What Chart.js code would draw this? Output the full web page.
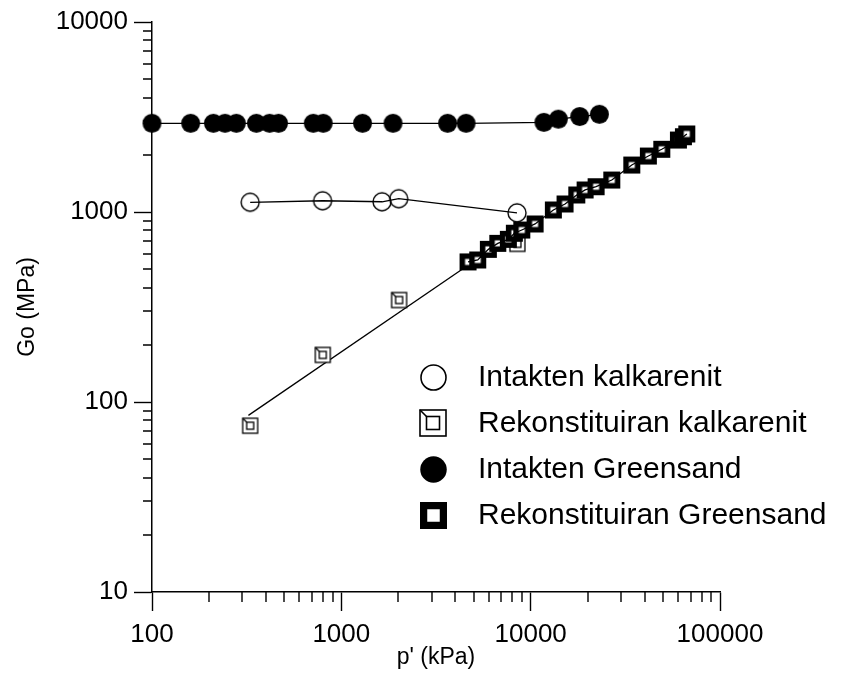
<!DOCTYPE html>
<html><head><meta charset="utf-8">
<style>html,body{margin:0;padding:0;background:#fff}#wrap{width:848px;height:683px;position:relative}</style>
<script src="https://cdn.jsdelivr.net/npm/chart.js@4/dist/chart.umd.min.js"></script>
</head><body><div id="wrap"><canvas id="c" width="848" height="683"></canvas></div>
<script>
// ---- data ----
const seriesNames = ['Intakten kalkarenit', 'Rekonstituiran kalkarenit', 'Intakten Greensand', 'Rekonstituiran Greensand'];
const intaktKalkP = [330, 796, 1641, 2010, 8470];
const intaktKalkG = [1125, 1146, 1132, 1175, 990];
const rekonKalkP = [330, 798, 2018, 8510];
const rekonKalkG = [75, 177, 344, 680];
const rekonKalkFitP = [323, 4670];
const rekonKalkFitG = [85, 525];
const intaktGreenP = [100, 160, 211, 243, 279, 356, 418, 466, 711, 802, 1294, 1875, 3640, 4560, 11750, 14000, 18160, 23070];
const intaktGreenG = [2930, 2930, 2930, 2930, 2930, 2930, 2930, 2930, 2930, 2930, 2930, 2930, 2930, 2930, 2965, 3080, 3180, 3268];
const rekonGreenP = [4670, 5254, 5977, 6703, 7625, 8200, 8974, 10550, 13180, 15190, 17520, 19390, 22160, 26820, 34200, 41850, 49260, 60300, 64080, 66790];
const rekonGreenG = [546, 559, 636, 684, 718, 773, 804, 865, 1025, 1102, 1229, 1306, 1359, 1473, 1767, 1971, 2138, 2393, 2490, 2574];
const xTickLabels = ['100', '1000', '10000', '100000'];
const yTickLabels = ['10', '100', '1000', '10000'];
const xTitle = "p' (kPa)";
const yTitle = 'Go (MPa)';

const FONT = '"Liberation Sans", Arial, sans-serif';
const pts = (xs, ys) => xs.map((x, i) => ({x: x, y: ys[i]}));

// ---- marker images ----
function mk(size, draw) {
  const c = document.createElement('canvas');
  c.width = size; c.height = size;
  const g = c.getContext('2d');
  draw(g, size);
  return c;
}
function openCircle(d, lw) {
  return mk(Math.ceil(d + lw + 2), (g, s) => {
    g.beginPath(); g.arc(s / 2, s / 2, d / 2, 0, Math.PI * 2);
    g.lineWidth = lw; g.strokeStyle = '#000'; g.stroke();
  });
}
function filledCircle(d) {
  return mk(Math.ceil(d + 2), (g, s) => {
    g.beginPath(); g.arc(s / 2, s / 2, d / 2, 0, Math.PI * 2);
    g.fillStyle = '#000'; g.fill();
  });
}
function kalkSquare(o, i, lw) {
  return mk(Math.ceil(o + lw + 2), (g, s) => {
    const c = s / 2;
    g.fillStyle = '#fff'; g.fillRect(c - o / 2, c - o / 2, o, o);
    g.lineWidth = lw; g.strokeStyle = '#000';
    g.strokeRect(c - o / 2, c - o / 2, o, o);
    g.strokeRect(c - i / 2, c - i / 2, i, i);
    g.beginPath(); g.moveTo(c - o / 2, c - o / 2); g.lineTo(c - i / 2, c - i / 2); g.stroke();
  });
}
function greenSquare(o, i) {
  return mk(Math.ceil(o + 2), (g, s) => {
    const c = s / 2;
    g.fillStyle = '#000'; g.fillRect(c - o / 2, c - o / 2, o, o);
    g.fillStyle = '#fff'; g.fillRect(c - i / 2, c - i / 2, i, i);
  });
}
const mOpenC = openCircle(18, 1.4);
const mKalkS = kalkSquare(15, 7, 1.3);
const mFillC = filledCircle(19);
const mGreenS = greenSquare(17, 6);
const legendMarkers = [openCircle(25, 1.6), kalkSquare(26, 13, 1.6), filledCircle(26.5), greenSquare(27, 12.5)];

const isMajor = v => Math.abs(Math.log10(v) - Math.round(Math.log10(v))) < 1e-9;
function logTicks(min, max) {
  const t = [];
  for (let e = Math.round(Math.log10(min)); e < Math.round(Math.log10(max)); e++) {
    for (let m = 1; m < 10; m++) t.push({value: m * Math.pow(10, e)});
  }
  t.push({value: max});
  return t;
}

const minorTicks = {
  id: 'minorTicks',
  afterDraw(chart) {
    const ctx = chart.ctx, a = chart.chartArea;
    const xs = chart.scales.x, ys = chart.scales.y;
    ctx.save();
    ctx.strokeStyle = '#000'; ctx.lineWidth = 1.4;
    ctx.beginPath();
    xs.ticks.forEach(t => {
      if (!isMajor(t.value)) {
        const px = Math.round(xs.getPixelForValue(t.value));
        ctx.moveTo(px, a.bottom); ctx.lineTo(px, a.bottom + 10);
      }
    });
    ys.ticks.forEach(t => {
      if (!isMajor(t.value)) {
        const py = Math.round(ys.getPixelForValue(t.value));
        ctx.moveTo(a.left, py); ctx.lineTo(a.left - 9, py);
      }
    });
    ctx.stroke();
    ctx.restore();
  }
};

const customLegend = {
  id: 'customLegend',
  afterDraw(chart) {
    const ctx = chart.ctx, a = chart.chartArea;
    const mx = a.left + 281, tx = a.left + 326, y0 = a.top + 355, dy = 46;
    ctx.save();
    ctx.font = '30px ' + FONT;
    ctx.fillStyle = '#000';
    ctx.textBaseline = 'middle';
    ctx.textAlign = 'left';
    seriesNames.forEach((name, i) => {
      const m = legendMarkers[i];
      const y = y0 + i * dy;
      ctx.drawImage(m, Math.round(mx - m.width / 2), Math.round(y - m.height / 2));
      ctx.fillText(name, tx, y + 1);
    });
    ctx.restore();
  }
};

const lineCommon = {showLine: true, borderColor: '#000', borderWidth: 1.3, clip: false, pointRadius: 9, pointHoverRadius: 9};

new Chart(document.getElementById('c'), {
  type: 'scatter',
  data: {
    datasets: [
      Object.assign({}, lineCommon, {label: seriesNames[0], data: pts(intaktKalkP, intaktKalkG), pointStyle: mOpenC, order: 0}),
      Object.assign({}, lineCommon, {label: 'Greensand line', data: pts(rekonGreenP, rekonGreenG), pointRadius: 0, order: 1}),
      Object.assign({}, lineCommon, {label: seriesNames[3], data: pts(rekonGreenP, rekonGreenG), showLine: false, pointStyle: mGreenS, order: 2}),
      Object.assign({}, lineCommon, {label: seriesNames[2], data: pts(intaktGreenP, intaktGreenG), pointStyle: mFillC, order: 3}),
      Object.assign({}, lineCommon, {label: seriesNames[1], data: pts(rekonKalkP, rekonKalkG), showLine: false, pointStyle: mKalkS, order: 4}),
      Object.assign({}, lineCommon, {label: 'Kalkarenit fit', data: pts(rekonKalkFitP, rekonKalkFitG), pointRadius: 0, order: 5})
    ]
  },
  options: {
    responsive: false,
    animation: false,
    devicePixelRatio: 1,
    layout: {padding: {top: 22, right: 128, left: 0, bottom: 0}},
    plugins: {legend: {display: false}, tooltip: {enabled: false}},
    events: [],
    scales: {
      x: {
        type: 'logarithmic', min: 100, max: 100000,
        afterBuildTicks: s => { s.ticks = logTicks(100, 100000); },
        afterFit: s => { s.height = 91; },
        grid: {drawOnChartArea: false, drawTicks: true, tickLength: 19, tickWidth: 1.4,
               tickColor: c => (c.tick && isMajor(c.tick.value)) ? '#000' : 'rgba(0,0,0,0)'},
        border: {display: true, color: '#000', width: 1.5},
        ticks: {autoSkip: false, maxRotation: 0, padding: 8, color: '#000', font: {family: FONT, size: 26},
                callback: v => xTickLabels.includes(String(v)) ? String(v) : ''},
        title: {display: true, text: xTitle, color: '#000', font: {family: FONT, size: 23}, padding: {top: 0, bottom: 12}}
      },
      y: {
        type: 'logarithmic', min: 10, max: 10000,
        afterBuildTicks: s => { s.ticks = logTicks(10, 10000); },
        afterFit: s => { s.width = 152; },
        grid: {drawOnChartArea: false, drawTicks: true, tickLength: 18, tickWidth: 1.4,
               tickColor: c => (c.tick && isMajor(c.tick.value)) ? '#000' : 'rgba(0,0,0,0)'},
        border: {display: true, color: '#000', width: 1.5},
        ticks: {autoSkip: false, padding: 6, color: '#000', font: {family: FONT, size: 26},
                callback: v => yTickLabels.includes(String(v)) ? String(v) : ''},
        title: {display: true, text: yTitle, color: '#000', font: {family: FONT, size: 23}, padding: {top: 14, bottom: 0}}
      }
    }
  },
  plugins: [minorTicks, customLegend]
});
</script>
</body></html>
